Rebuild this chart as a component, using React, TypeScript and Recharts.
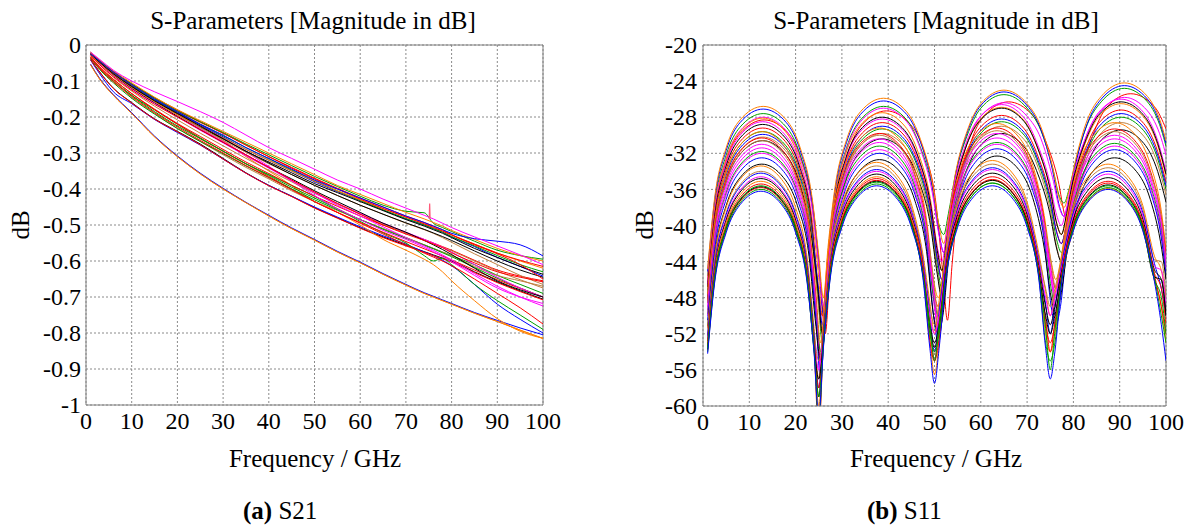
import React from 'react';
import { LineChart, Line, XAxis, YAxis, CartesianGrid, ReferenceLine } from 'recharts';

const FONT = '"Liberation Serif", "Times New Roman", serif';

const ORANGE = '#ff8000';
const BLUE = '#0000ff';
const GREEN = '#00a000';
const RED = '#ff0000';
const BLACK = '#000000';
const MAGENTA = '#ff00ff';
const BROWN = '#c08040';
const PINK = '#ff5a7a';

const X_TICKS = [0, 10, 20, 30, 40, 50, 60, 70, 80, 90, 100];
const S21_Y_TICKS = [0, -0.1, -0.2, -0.3, -0.4, -0.5, -0.6, -0.7, -0.8, -0.9, -1];
const S11_Y_TICKS = [-60, -56, -52, -48, -44, -40, -36, -32, -28, -24, -20];

// ---------------- S21 ----------------
const S21_FREQ = [1, 3, 6, 10, 15, 20, 25, 30, 35, 40, 45, 50, 55, 60, 65, 70, 74, 76, 78, 80, 85, 90, 95, 100];

const s21_orangeLow = [-0.055, -0.095, -0.14, -0.19, -0.255, -0.31, -0.358, -0.4, -0.438, -0.475, -0.51, -0.542, -0.575, -0.605, -0.637, -0.667, -0.69, -0.7, -0.71, -0.72, -0.745, -0.768, -0.792, -0.815];
const s21_blueLow = [-0.053, -0.093, -0.138, -0.188, -0.253, -0.308, -0.356, -0.398, -0.437, -0.473, -0.508, -0.54, -0.573, -0.603, -0.635, -0.665, -0.688, -0.698, -0.708, -0.718, -0.743, -0.765, -0.786, -0.805];
const s21_blackK = [-0.04, -0.075, -0.12, -0.16, -0.205, -0.24, -0.275, -0.315, -0.355, -0.39, -0.42, -0.452, -0.48, -0.508, -0.533, -0.556, -0.574, -0.583, -0.592, -0.6, -0.63, -0.658, -0.683, -0.706];
const s21_blueK = [-0.042, -0.08, -0.13, -0.163, -0.207, -0.243, -0.278, -0.317, -0.356, -0.39, -0.42, -0.45, -0.478, -0.505, -0.53, -0.553, -0.575, -0.585, -0.598, -0.613, -0.665, -0.72, -0.762, -0.8];
const s21_redK = [-0.041, -0.076, -0.121, -0.161, -0.206, -0.241, -0.277, -0.317, -0.356, -0.391, -0.421, -0.453, -0.481, -0.509, -0.535, -0.558, -0.576, -0.585, -0.594, -0.603, -0.632, -0.66, -0.685, -0.708];
const s21_orangeKink = [-0.025, -0.05, -0.08, -0.115, -0.155, -0.19, -0.225, -0.265, -0.31, -0.35, -0.39, -0.435, -0.465, -0.5, -0.54, -0.57, -0.595, -0.61, -0.63, -0.655, -0.71, -0.76, -0.795, -0.815];
const s21_greenKink = [-0.035, -0.065, -0.1, -0.14, -0.18, -0.22, -0.258, -0.295, -0.33, -0.36, -0.39, -0.42, -0.455, -0.49, -0.522, -0.55, -0.585, -0.6, -0.592, -0.61, -0.665, -0.71, -0.75, -0.79];
const s21_redLow = [-0.035, -0.06, -0.095, -0.135, -0.18, -0.22, -0.26, -0.295, -0.33, -0.365, -0.4, -0.435, -0.465, -0.495, -0.525, -0.555, -0.578, -0.589, -0.6, -0.613, -0.65, -0.69, -0.73, -0.775];
const s21_greenMid = [-0.035, -0.065, -0.1, -0.14, -0.185, -0.225, -0.26, -0.295, -0.33, -0.362, -0.395, -0.425, -0.455, -0.485, -0.51, -0.535, -0.555, -0.565, -0.575, -0.585, -0.61, -0.64, -0.665, -0.69];
const s21_brownMid = [-0.033, -0.063, -0.098, -0.145, -0.19, -0.232, -0.268, -0.305, -0.34, -0.372, -0.405, -0.435, -0.46, -0.485, -0.51, -0.535, -0.555, -0.565, -0.575, -0.585, -0.615, -0.64, -0.655, -0.67];
const s21_redMid = [-0.033, -0.062, -0.096, -0.135, -0.178, -0.218, -0.254, -0.29, -0.325, -0.357, -0.39, -0.42, -0.448, -0.475, -0.5, -0.522, -0.54, -0.55, -0.56, -0.57, -0.598, -0.625, -0.642, -0.655];
const s21_greenMid2 = [-0.037, -0.068, -0.105, -0.148, -0.192, -0.232, -0.268, -0.302, -0.336, -0.368, -0.4, -0.43, -0.458, -0.485, -0.512, -0.537, -0.556, -0.566, -0.577, -0.588, -0.618, -0.648, -0.675, -0.7];
const s21_redMid2 = [-0.036, -0.066, -0.102, -0.143, -0.188, -0.228, -0.265, -0.3, -0.335, -0.368, -0.402, -0.435, -0.465, -0.493, -0.52, -0.546, -0.566, -0.576, -0.586, -0.597, -0.625, -0.652, -0.676, -0.7];
const s21_magentaDrop = [-0.025, -0.047, -0.078, -0.113, -0.152, -0.187, -0.222, -0.258, -0.297, -0.337, -0.378, -0.418, -0.455, -0.485, -0.515, -0.54, -0.562, -0.574, -0.588, -0.602, -0.64, -0.675, -0.7, -0.718];
const s21_magentaTop = [-0.02, -0.04, -0.07, -0.1, -0.13, -0.157, -0.185, -0.215, -0.25, -0.285, -0.315, -0.345, -0.375, -0.4, -0.428, -0.453, -0.473, -0.483, -0.495, -0.507, -0.533, -0.558, -0.583, -0.61];
const s21_blueBump = [-0.025, -0.045, -0.075, -0.11, -0.15, -0.185, -0.22, -0.25, -0.285, -0.315, -0.345, -0.375, -0.4, -0.425, -0.45, -0.475, -0.493, -0.503, -0.513, -0.523, -0.538, -0.545, -0.555, -0.586];
const s21_blackU = [-0.025, -0.048, -0.08, -0.115, -0.155, -0.19, -0.225, -0.26, -0.295, -0.325, -0.355, -0.385, -0.41, -0.435, -0.46, -0.485, -0.503, -0.513, -0.523, -0.535, -0.565, -0.59, -0.615, -0.637];
const s21_orangeU = [-0.02, -0.042, -0.072, -0.105, -0.145, -0.18, -0.21, -0.24, -0.27, -0.3, -0.33, -0.36, -0.39, -0.415, -0.44, -0.465, -0.483, -0.493, -0.503, -0.515, -0.54, -0.565, -0.585, -0.6];
const s21_redU = [-0.022, -0.045, -0.076, -0.11, -0.148, -0.183, -0.215, -0.245, -0.278, -0.31, -0.34, -0.37, -0.398, -0.425, -0.45, -0.475, -0.493, -0.503, -0.513, -0.527, -0.555, -0.58, -0.61, -0.65];
const s21_greenU = [-0.02, -0.043, -0.074, -0.108, -0.147, -0.182, -0.213, -0.243, -0.275, -0.305, -0.335, -0.365, -0.393, -0.42, -0.445, -0.462, -0.466, -0.495, -0.507, -0.518, -0.545, -0.57, -0.585, -0.595];
const s21_brownU = [-0.028, -0.05, -0.082, -0.118, -0.158, -0.195, -0.23, -0.265, -0.298, -0.33, -0.36, -0.39, -0.418, -0.445, -0.47, -0.495, -0.513, -0.523, -0.535, -0.548, -0.58, -0.61, -0.64, -0.665];
const s21_magentaU = [-0.025, -0.048, -0.08, -0.117, -0.158, -0.195, -0.232, -0.268, -0.305, -0.34, -0.375, -0.41, -0.445, -0.475, -0.505, -0.535, -0.558, -0.57, -0.583, -0.597, -0.635, -0.67, -0.7, -0.725];
const s21_blackU2 = [-0.027, -0.05, -0.083, -0.12, -0.16, -0.198, -0.235, -0.27, -0.305, -0.34, -0.372, -0.405, -0.435, -0.465, -0.495, -0.52, -0.543, -0.555, -0.568, -0.582, -0.62, -0.655, -0.68, -0.7];
const s21_blueU2 = [-0.026, -0.048, -0.08, -0.115, -0.153, -0.188, -0.222, -0.255, -0.29, -0.32, -0.35, -0.38, -0.407, -0.432, -0.458, -0.483, -0.5, -0.51, -0.52, -0.533, -0.56, -0.59, -0.615, -0.642];
const s21_redU2 = [-0.03, -0.055, -0.088, -0.125, -0.165, -0.2, -0.235, -0.27, -0.305, -0.34, -0.375, -0.408, -0.44, -0.47, -0.5, -0.525, -0.543, -0.553, -0.563, -0.577, -0.605, -0.63, -0.645, -0.658];
const s21_greenU2 = [-0.024, -0.046, -0.077, -0.112, -0.151, -0.186, -0.22, -0.252, -0.285, -0.316, -0.347, -0.377, -0.405, -0.432, -0.458, -0.482, -0.5, -0.51, -0.52, -0.532, -0.558, -0.585, -0.61, -0.63];
const s21_orangeU2 = [-0.027, -0.05, -0.082, -0.118, -0.157, -0.193, -0.226, -0.258, -0.29, -0.32, -0.35, -0.378, -0.405, -0.43, -0.455, -0.478, -0.496, -0.506, -0.516, -0.527, -0.553, -0.578, -0.6, -0.62];
const s21_redU3 = [-0.023, -0.044, -0.074, -0.108, -0.146, -0.18, -0.213, -0.245, -0.278, -0.31, -0.342, -0.372, -0.4, -0.428, -0.454, -0.478, -0.497, -0.507, -0.517, -0.528, -0.553, -0.578, -0.598, -0.615];
const s21_blackU3 = [-0.026, -0.049, -0.081, -0.117, -0.156, -0.192, -0.227, -0.261, -0.295, -0.328, -0.36, -0.39, -0.418, -0.445, -0.47, -0.494, -0.512, -0.522, -0.532, -0.543, -0.572, -0.6, -0.625, -0.645];
const s21_magentaU2 = [-0.028, -0.052, -0.085, -0.122, -0.162, -0.2, -0.237, -0.272, -0.308, -0.342, -0.377, -0.41, -0.44, -0.468, -0.495, -0.52, -0.54, -0.55, -0.562, -0.575, -0.61, -0.645, -0.675, -0.7];
const s21_brownU2 = [-0.03, -0.055, -0.09, -0.128, -0.17, -0.208, -0.245, -0.28, -0.315, -0.348, -0.38, -0.412, -0.442, -0.47, -0.497, -0.522, -0.542, -0.552, -0.562, -0.572, -0.6, -0.628, -0.652, -0.675];

const S21_SPIKE_FREQ = [75.1, 75.2, 75.3];
const S21_SPIKE_VAL = [-0.483, -0.44, -0.483];

const S21_SERIES: [number[], string][] = [
  [s21_orangeLow, ORANGE],
  [s21_blueLow, BLUE],
  [s21_orangeLow, ORANGE],
  [s21_blackK, BLACK],
  [s21_blueK, BLUE],
  [s21_redK, RED],
  [s21_orangeKink, ORANGE],
  [s21_greenKink, GREEN],
  [s21_redLow, RED],
  [s21_greenMid, GREEN],
  [s21_brownMid, BROWN],
  [s21_redMid, RED],
  [s21_greenMid2, GREEN],
  [s21_redMid2, RED],
  [s21_magentaDrop, MAGENTA],
  [s21_brownU2, BROWN],
  [s21_magentaU2, MAGENTA],
  [s21_blackU2, BLACK],
  [s21_magentaU, MAGENTA],
  [s21_brownU, BROWN],
  [s21_redU2, RED],
  [s21_blackU3, BLACK],
  [s21_blueU2, BLUE],
  [s21_greenU2, GREEN],
  [s21_orangeU2, ORANGE],
  [s21_blackU, BLACK],
  [s21_redU3, RED],
  [s21_redU, RED],
  [s21_greenU, GREEN],
  [s21_orangeU, ORANGE],
  [s21_blueBump, BLUE],
  [s21_magentaTop, MAGENTA],
];

// ---------------- S11 ----------------
const S11_FREQ_A = [1, 2.5, 5, 8, 12.5, 17, 20, 22.5, 24, 25, 26, 27.5, 30, 33, 37.5, 42, 45, 47.5, 49, 50, 51, 52.5, 55, 58, 62.5, 67, 70, 72.5, 74, 75, 76, 77.5, 80, 83, 87.5, 92, 95, 97.5, 99, 100];
const S11_FREQ_B = [1, 2.5, 5, 8, 12.7, 17.4, 20.4, 22.9, 24.4, 25.4, 26.4, 27.9, 30.4, 33.4, 38.1, 42.8, 45.8, 48.3, 49.8, 50.8, 51.8, 53.3, 55.8, 58.8, 63.5, 68.2, 71.2, 73.7, 75.2, 76.2, 77.2, 78.7, 81.2, 84.2, 88.9, 93.6, 96.6, 99.1, 100];
const S11_FREQ_C = [1, 2.5, 5, 8, 12.9, 17.8, 20.8, 23.3, 24.8, 25.8, 26.8, 28.3, 30.8, 33.8, 38.7, 43.6, 46.6, 49.1, 50.6, 51.6, 52.6, 54.1, 56.6, 59.6, 64.5, 69.4, 72.4, 74.9, 76.4, 77.4, 78.4, 79.9, 82.4, 85.4, 90.3, 95.2, 98.2, 100];
const S11_FREQ_D = [1, 2.5, 5, 8, 13, 18, 21, 23.5, 25, 26, 27, 28.5, 31, 34, 39, 44, 47, 49.5, 51, 52, 53, 54.5, 57, 60, 65, 70, 73, 75.5, 77, 78, 79, 80.5, 83, 86, 91, 96, 99, 100];
const S11_FREQ_E = [1, 2.5, 5, 8, 13.2, 18.4, 21.4, 23.9, 25.4, 26.4, 27.4, 28.9, 31.4, 34.4, 39.6, 44.8, 47.8, 50.3, 51.8, 52.8, 53.8, 55.3, 57.8, 60.8, 66, 71.2, 74.2, 76.7, 78.2, 79.2, 80.2, 81.7, 84.2, 87.2, 92.4, 97.6, 100];

const s11_a1 = [-54.2, -46.4, -40.8, -37.7, -36.2, -37.7, -40.8, -46.4, -54.2, -61, -53.6, -45.8, -40.2, -37.1, -35.6, -37.1, -40.2, -45.8, -53.6, -57.5, -53.6, -45.8, -40.2, -37.1, -35.6, -37.1, -40.2, -45.8, -53.6, -57, -54, -46.2, -40.6, -37.5, -36.0, -37.5, -40.6, -46.2, -51, -55];
const s11_a2 = [-54.0, -46.2, -40.6, -37.5, -36.0, -37.5, -40.6, -46.2, -54.0, -59, -53.4, -45.6, -40.0, -36.9, -35.4, -36.9, -40.0, -45.6, -52, -54, -52, -45.5, -39.9, -36.8, -35.3, -36.8, -39.9, -45.5, -53, -55, -53, -46.0, -40.4, -37.3, -35.8, -37.3, -40.4, -46.0, -48, -52];
const s11_a3 = [-53.7, -45.9, -40.3, -37.2, -35.7, -37.2, -40.3, -45.9, -53.7, -57, -53.1, -45.3, -39.7, -36.6, -35.1, -36.6, -39.7, -45.3, -51, -53, -51, -45.2, -39.6, -36.5, -35.0, -36.5, -39.6, -45.2, -50, -52, -50, -45.7, -40.1, -37.0, -35.5, -37.0, -40.1, -45.7, -46, -50];
const s11_a4 = [-53.4, -45.6, -40.0, -36.9, -35.4, -36.9, -40.0, -45.6, -53.4, -58, -52.8, -45.0, -39.4, -36.3, -34.8, -36.3, -39.4, -45.0, -52.8, -55, -52.6, -44.8, -39.2, -36.1, -34.6, -36.1, -39.2, -44.8, -51, -53, -51, -45.3, -39.7, -36.6, -35.1, -36.6, -39.7, -45.3, -47, -51];
const s11_a5 = [-53.1, -45.3, -39.7, -36.6, -35.1, -36.6, -39.7, -45.3, -53.1, -60, -52.6, -44.8, -39.2, -36.1, -34.6, -36.1, -39.2, -44.8, -52.6, -56.5, -53.0, -45.2, -39.6, -36.5, -35.0, -36.5, -39.6, -45.2, -52, -54, -52, -46.1, -40.5, -37.4, -35.9, -37.4, -40.5, -46.1, -49, -53];
const s11_a6 = [-52.6, -44.8, -39.2, -36.1, -34.6, -36.1, -39.2, -44.8, -52.6, -56, -52.0, -44.2, -38.6, -35.5, -34.0, -35.5, -38.6, -44.2, -50, -52, -50, -44.0, -38.4, -35.3, -33.8, -35.3, -38.4, -44.0, -48, -50, -48, -44.5, -38.9, -35.8, -34.3, -35.8, -38.9, -44.5, -45, -49];
const s11_a7 = [-52.0, -44.2, -38.6, -35.5, -34.0, -35.5, -38.6, -44.2, -52.0, -55, -51.4, -43.6, -38.0, -34.9, -33.4, -34.9, -38.0, -43.6, -49, -51, -49, -43.4, -37.8, -34.7, -33.2, -34.7, -37.8, -43.4, -47, -49, -47, -43.8, -38.2, -35.1, -33.6, -35.1, -38.2, -43.8, -44, -48];
const s11_a8 = [-52.8, -45.0, -39.4, -36.3, -34.8, -36.3, -39.4, -45.0, -52.8, -59, -52.3, -44.5, -38.9, -35.8, -34.3, -35.8, -38.9, -44.5, -51.5, -53.5, -51.5, -44.4, -38.8, -35.7, -34.2, -35.7, -38.8, -44.4, -49, -51, -49, -44.9, -39.3, -36.2, -34.7, -36.2, -39.3, -44.9, -46, -50];
const s11_a9 = [-53.6, -45.8, -40.2, -37.1, -35.6, -37.1, -40.2, -45.8, -53.6, -62, -53.2, -45.4, -39.8, -36.7, -35.2, -36.7, -39.8, -45.4, -51.0, -55, -51.1, -45.5, -39.9, -36.8, -35.3, -36.8, -39.9, -45.5, -51.4, -56, -51.7, -45.8, -40.2, -37.1, -35.6, -37.1, -40.2, -45.8, -50, -53];
const s11_a10 = [-51.4, -43.6, -38.0, -34.9, -33.4, -34.9, -38.0, -43.6, -51.4, -57, -51.0, -43.2, -37.6, -34.5, -33.0, -34.5, -37.6, -43.2, -48.5, -52, -48.3, -43.0, -37.4, -34.3, -32.8, -34.3, -37.4, -43.0, -47.3, -50, -47.7, -43.4, -37.8, -34.7, -33.2, -34.7, -37.8, -43.4, -45, -48];
const s11_a11 = [-52.2, -44.4, -38.8, -35.7, -34.2, -35.7, -38.8, -44.4, -52.2, -58, -51.8, -44.0, -38.4, -35.3, -33.8, -35.3, -38.4, -44.0, -49.8, -54, -49.6, -43.8, -38.2, -35.1, -33.6, -35.1, -38.2, -43.8, -48.7, -52, -49.1, -44.2, -38.6, -35.5, -34.0, -35.5, -38.6, -44.2, -47, -50];
const s11_a12 = [-53.8, -46.0, -40.4, -37.3, -35.8, -37.3, -40.4, -46.0, -53.8, -63, -53.0, -45.2, -39.6, -36.5, -35.0, -36.5, -39.6, -45.2, -50.9, -55, -50.8, -45.1, -39.5, -36.4, -34.9, -36.4, -39.5, -45.1, -50.4, -54, -50.8, -45.5, -39.9, -36.8, -35.3, -36.8, -39.9, -45.5, -49, -52];

const s11_b1 = [-51.2, -43.4, -37.8, -34.7, -33.2, -34.7, -37.8, -43.4, -51.2, -55, -50.7, -42.9, -37.3, -34.2, -32.7, -34.2, -37.3, -42.9, -50, -52, -50, -42.5, -36.9, -33.8, -32.3, -33.8, -36.9, -42.5, -48, -50, -48, -42.7, -37.1, -34.0, -32.5, -34.0, -37.1, -42.7, -46];
const s11_b2 = [-50.5, -42.7, -37.1, -34.0, -32.5, -34.0, -37.1, -42.7, -50.5, -57, -50.0, -42.2, -36.6, -33.5, -32.0, -33.5, -36.6, -42.2, -50, -53, -49.5, -41.7, -36.1, -33.0, -31.5, -33.0, -36.1, -41.7, -49, -51, -49, -41.8, -36.2, -33.1, -31.6, -33.1, -36.2, -41.8, -45.5];
const s11_b3 = [-49.8, -42.0, -36.4, -33.3, -31.8, -33.3, -36.4, -42.0, -49.8, -54, -49.2, -41.4, -35.8, -32.7, -31.2, -32.7, -35.8, -41.4, -48, -50, -48, -41.0, -35.4, -32.3, -30.8, -32.3, -35.4, -41.0, -47, -49, -47, -41.1, -35.5, -32.4, -30.9, -32.4, -35.5, -41.1, -45];
const s11_b4 = [-49.0, -41.2, -35.6, -32.5, -31.0, -32.5, -35.6, -41.2, -49.0, -56, -48.4, -40.6, -35.0, -31.9, -30.4, -31.9, -35.0, -40.6, -48.4, -51, -47.8, -40.0, -34.4, -31.3, -29.8, -31.3, -34.4, -40.0, -46, -48, -46, -40.2, -34.6, -31.5, -30.0, -31.5, -34.6, -40.2, -44];
const s11_b5 = [-48.3, -40.5, -34.9, -31.8, -30.3, -31.8, -34.9, -40.5, -48.3, -55, -47.8, -40.0, -34.4, -31.3, -29.8, -31.3, -34.4, -40.0, -47, -49, -47, -39.4, -33.8, -30.7, -29.2, -30.7, -33.8, -39.4, -45, -47, -45, -39.5, -33.9, -30.8, -29.3, -30.8, -33.9, -39.5, -43.3];
const s11_b6 = [-47.6, -39.8, -34.2, -31.1, -29.6, -31.1, -34.2, -39.8, -47.6, -53, -47.2, -39.4, -33.8, -30.7, -29.2, -30.7, -33.8, -39.4, -46, -48, -46, -38.9, -33.3, -30.2, -28.7, -30.2, -33.3, -38.9, -44, -46, -44, -38.8, -33.2, -30.1, -28.6, -30.1, -33.2, -38.8, -42.6];
const s11_b7 = [-50.0, -42.2, -36.6, -33.5, -32.0, -33.5, -36.6, -42.2, -50.0, -55, -49.6, -41.8, -36.2, -33.1, -31.6, -33.1, -36.2, -41.8, -47.4, -51, -46.8, -41.2, -35.6, -32.5, -31.0, -32.5, -35.6, -41.2, -46.0, -49, -46.2, -41.4, -35.8, -32.7, -31.2, -32.7, -35.8, -41.4, -45];
const s11_b8 = [-48.6, -40.8, -35.2, -32.1, -30.6, -32.1, -35.2, -40.8, -48.6, -54, -48.0, -40.2, -34.6, -31.5, -30.0, -31.5, -34.6, -40.2, -46.0, -50, -45.5, -39.7, -34.1, -31.0, -29.5, -31.0, -34.1, -39.7, -44.2, -47, -44.3, -39.8, -34.2, -31.1, -29.6, -31.1, -34.2, -39.8, -44];
const s11_b9 = [-49.4, -41.6, -36.0, -32.9, -31.4, -32.9, -36.0, -41.6, -49.4, -56, -48.8, -41.0, -35.4, -32.3, -30.8, -32.3, -35.4, -41.0, -47.2, -52, -46.7, -40.5, -34.9, -31.8, -30.3, -31.8, -34.9, -40.5, -45.1, -48, -45.2, -40.6, -35.0, -31.9, -30.4, -31.9, -35.0, -40.6, -44.5];

const s11_c1 = [-46.8, -39.0, -33.4, -30.3, -28.8, -30.3, -33.4, -39.0, -46.8, -52, -46.0, -38.2, -32.6, -29.5, -28.0, -29.5, -32.6, -37.5, -42.8, -45, -41.8, -36.5, -31.6, -28.5, -27.0, -28.5, -31.6, -35.8, -39.8, -41, -39.1, -35.1, -30.9, -27.8, -26.3, -27.8, -30.9, -34.3];
const s11_c2 = [-46.5, -38.7, -33.1, -30.0, -28.5, -30.0, -33.1, -38.7, -46.5, -51, -46.2, -38.4, -32.8, -29.7, -28.2, -29.7, -32.8, -37.5, -42.5, -44, -40.9, -35.9, -31.2, -28.1, -26.6, -28.1, -31.2, -35.2, -38.9, -40, -38.3, -34.6, -30.6, -27.5, -26.0, -27.5, -30.6, -34.0];
const s11_c3 = [-47.6, -39.8, -34.2, -31.1, -29.6, -31.1, -34.2, -39.8, -47.6, -53, -47.3, -39.5, -33.9, -30.8, -29.3, -30.8, -33.9, -38.9, -44.4, -47, -43.6, -38.1, -33.1, -30.0, -28.5, -30.0, -33.1, -37.4, -41.6, -43, -41.1, -36.9, -32.6, -29.5, -28.0, -29.5, -32.6, -36.0];
const s11_c4 = [-48.2, -40.4, -34.8, -31.7, -30.2, -31.7, -34.8, -40.4, -48.2, -52, -47.8, -40.0, -34.4, -31.3, -29.8, -31.3, -34.4, -39.4, -45.1, -48, -44.3, -38.6, -33.6, -30.5, -29.0, -30.5, -33.6, -38.0, -42.4, -44, -42.0, -37.6, -33.2, -30.1, -28.6, -30.1, -33.2, -36.6];
const s11_c5 = [-47.2, -39.4, -33.8, -30.7, -29.2, -30.7, -33.8, -39.4, -47.2, -50, -46.6, -38.8, -33.2, -30.1, -28.6, -30.1, -33.2, -38.1, -43.5, -46, -42.7, -37.3, -32.4, -29.3, -27.8, -29.3, -32.4, -36.6, -40.7, -42, -40.1, -36.0, -31.8, -28.7, -27.2, -28.7, -31.8, -35.2];
const s11_c6 = [-47.9, -40.1, -34.5, -31.4, -29.9, -31.4, -34.5, -40.1, -46.4, -51, -45.5, -39.2, -33.6, -30.5, -29.0, -30.5, -33.6, -38.4, -43.7, -46, -42.9, -37.6, -32.8, -29.7, -28.2, -29.7, -32.8, -36.9, -40.8, -42, -40.2, -36.3, -32.2, -29.1, -27.6, -29.1, -32.2, -35.6];
const s11_c7 = [-46.1, -38.3, -32.7, -29.6, -28.1, -29.6, -32.7, -38.3, -44.7, -50, -44.1, -37.4, -32.1, -29.0, -27.5, -29.0, -32.1, -37.0, -42.4, -45, -41.8, -36.4, -31.5, -28.4, -26.9, -28.4, -31.5, -35.7, -39.7, -41, -39.3, -35.3, -31.1, -28.0, -26.5, -28.0, -31.1, -34.5];
const s11_c8 = [-48.6, -40.8, -35.2, -32.1, -30.6, -32.1, -35.2, -40.8, -47.0, -52, -46.8, -40.3, -35.0, -31.9, -30.4, -31.9, -35.0, -39.9, -45.4, -48, -44.8, -39.3, -34.4, -31.3, -29.8, -31.3, -34.4, -38.6, -42.6, -44, -42.2, -38.2, -34.0, -30.9, -29.4, -30.9, -34.0, -37.4];

const s11_d1 = [-44.8, -37.0, -31.4, -28.3, -26.8, -28.3, -31.4, -36.7, -43.3, -48, -42.4, -35.8, -30.5, -27.4, -25.9, -27.4, -30.5, -35.2, -40.1, -42, -39.2, -34.3, -29.6, -26.5, -25.0, -26.5, -29.1, -33.5, -37.1, -38, -36.3, -32.7, -28.3, -25.7, -24.2, -25.7, -28.8, -30.6];
const s11_d2 = [-45.1, -37.3, -31.7, -28.6, -27.1, -28.6, -31.7, -37.1, -44.0, -50, -43.1, -36.2, -30.8, -27.7, -26.2, -27.7, -30.8, -35.6, -40.9, -43, -39.9, -34.6, -29.8, -26.7, -25.2, -26.7, -29.4, -33.9, -37.9, -39, -37.2, -33.2, -28.7, -26.0, -24.5, -26.0, -29.1, -30.9];
const s11_d3 = [-45.6, -37.8, -32.2, -29.1, -27.6, -29.1, -32.2, -37.5, -44.1, -49, -43.3, -36.7, -31.4, -28.3, -26.8, -28.3, -31.4, -35.7, -40.0, -41, -38.7, -34.4, -30.1, -27.0, -25.5, -27.0, -29.5, -33.6, -36.8, -37.5, -36.1, -32.9, -28.8, -26.3, -24.8, -26.3, -29.4, -31.2];
const s11_d4 = [-46.0, -38.2, -32.6, -29.5, -28.0, -29.5, -32.6, -37.9, -44.4, -49, -43.4, -36.9, -31.6, -28.5, -27.0, -28.5, -31.6, -36.3, -41.1, -43, -40.5, -35.7, -31.0, -27.9, -26.4, -27.9, -30.4, -34.7, -38.1, -39, -37.5, -34.1, -29.8, -27.3, -25.8, -27.3, -30.4, -32.2];

const s11_e1 = [-46.3, -38.5, -32.9, -29.8, -28.3, -29.8, -32.9, -38.5, -46.3, -52, -45.3, -37.5, -31.9, -28.8, -27.3, -28.8, -31.9, -37.5, -45.3, -50.5, -44.3, -36.5, -30.9, -27.8, -26.3, -27.8, -30.9, -35.0, -39.0, -40, -38.1, -34.1, -30.0, -26.9, -25.4, -26.9, -29.3];

const S11_SERIES: [number[], number[], string][] = [
  [S11_FREQ_E, s11_e1, RED],
  [S11_FREQ_D, s11_d3, GREEN],
  [S11_FREQ_D, s11_d2, BLUE],
  [S11_FREQ_D, s11_d4, MAGENTA],
  [S11_FREQ_D, s11_d1, ORANGE],
  [S11_FREQ_C, s11_c7, ORANGE],
  [S11_FREQ_C, s11_c2, MAGENTA],
  [S11_FREQ_C, s11_c1, BLACK],
  [S11_FREQ_C, s11_c5, RED],
  [S11_FREQ_C, s11_c3, GREEN],
  [S11_FREQ_C, s11_c6, BLUE],
  [S11_FREQ_C, s11_c4, BROWN],
  [S11_FREQ_C, s11_c8, BLACK],
  [S11_FREQ_B, s11_b6, ORANGE],
  [S11_FREQ_B, s11_b5, RED],
  [S11_FREQ_B, s11_b8, BROWN],
  [S11_FREQ_B, s11_b4, MAGENTA],
  [S11_FREQ_B, s11_b9, MAGENTA],
  [S11_FREQ_B, s11_b3, GREEN],
  [S11_FREQ_B, s11_b7, MAGENTA],
  [S11_FREQ_B, s11_b2, BLUE],
  [S11_FREQ_B, s11_b1, BLACK],
  [S11_FREQ_A, s11_a10, ORANGE],
  [S11_FREQ_A, s11_a7, BROWN],
  [S11_FREQ_A, s11_a11, BLUE],
  [S11_FREQ_A, s11_a6, MAGENTA],
  [S11_FREQ_A, s11_a8, BLACK],
  [S11_FREQ_A, s11_a5, ORANGE],
  [S11_FREQ_A, s11_a4, RED],
  [S11_FREQ_A, s11_a12, RED],
  [S11_FREQ_A, s11_a3, BLACK],
  [S11_FREQ_A, s11_a9, GREEN],
  [S11_FREQ_A, s11_a2, GREEN],
  [S11_FREQ_A, s11_a1, BLUE],
];

const toPoints = (freq: number[], vals: number[]) => freq.map((x, i) => ({ x, y: vals[i] }));

const FRAME = '#808080';

function fmtS21(v: number) {
  if (v === 0) return '0';
  if (v === -1) return '-1';
  return v.toFixed(1);
}

function XTick(props: any) {
  const { x, y, payload } = props;
  return (
    <text x={x} y={y} dy="0.72em" textAnchor="middle" fontFamily={FONT} fontSize={24} fill="#000">
      {String(payload.value)}
    </text>
  );
}

function makeYTick(fmt: (v: number) => string) {
  return function YTick(props: any) {
    const { x, y, payload } = props;
    return (
      <text x={x} y={y} dy="0.34em" textAnchor="end" fontFamily={FONT} fontSize={24} fill="#000">
        {fmt(payload.value)}
      </text>
    );
  };
}

const S21YTick = makeYTick(fmtS21);
const S11YTick = makeYTick((v: number) => String(v));

export default function App() {
  return (
    <div style={{ position: 'absolute', left: 0, top: 0, width: 1195, height: 527, background: '#fff', overflow: 'hidden' }}>
      <div style={{ position: 'absolute', left: 0, top: 0 }}>
        <LineChart width={600} height={440} margin={{ top: 45, right: 57, bottom: 0, left: 0 }}>
          <CartesianGrid stroke="#8a8a8a" strokeDasharray="2 2" />
          <XAxis type="number" dataKey="x" domain={[0, 100]} ticks={X_TICKS} allowDataOverflow height={35}
            tickLine={false} tickSize={4} tickMargin={3} axisLine={{ stroke: FRAME }} tick={<XTick />} interval={0} />
          <YAxis type="number" domain={[-1, 0]} ticks={S21_Y_TICKS} allowDataOverflow width={86}
            tickLine={false} tickSize={3} tickMargin={2} axisLine={{ stroke: FRAME }} tick={<S21YTick />} interval={0} />
          <ReferenceLine y={0} stroke={FRAME} />
          <ReferenceLine x={100} stroke={FRAME} />
          {S21_SERIES.map(([vals, color], i) => (
            <Line key={'s21-' + i} data={toPoints(S21_FREQ, vals)} dataKey="y" type="monotone" stroke={color}
              strokeWidth={1} dot={false} activeDot={false} isAnimationActive={false} />
          ))}
          <Line key="s21-spike" data={toPoints(S21_SPIKE_FREQ, S21_SPIKE_VAL)} dataKey="y" type="linear" stroke={PINK}
            strokeWidth={1.2} dot={false} activeDot={false} isAnimationActive={false} />
        </LineChart>
      </div>
      <div style={{ position: 'absolute', left: 600, top: 0 }}>
        <LineChart width={595} height={440} margin={{ top: 45, right: 29, bottom: 0, left: 0 }}>
          <CartesianGrid stroke="#8a8a8a" strokeDasharray="2 2" />
          <XAxis type="number" dataKey="x" domain={[0, 100]} ticks={X_TICKS} allowDataOverflow height={34}
            tickLine={false} tickSize={4} tickMargin={3} axisLine={{ stroke: FRAME }} tick={<XTick />} interval={0} />
          <YAxis type="number" domain={[-60, -20]} ticks={S11_Y_TICKS} allowDataOverflow width={103}
            tickLine={false} tickSize={3} tickMargin={3} axisLine={{ stroke: FRAME }} tick={<S11YTick />} interval={0} />
          <ReferenceLine y={-20} stroke={FRAME} />
          <ReferenceLine x={100} stroke={FRAME} />
          {S11_SERIES.map(([freq, vals, color], i) => (
            <Line key={'s11-' + i} data={toPoints(freq, vals)} dataKey="y" type="monotone" stroke={color}
              strokeWidth={1} dot={false} activeDot={false} isAnimationActive={false} />
          ))}
        </LineChart>
      </div>
      <svg width={1195} height={527} style={{ position: 'absolute', left: 0, top: 0, pointerEvents: 'none' }}
        fontFamily={FONT} fill="#000">
        <text x={313} y={29} fontSize={25} textAnchor="middle">S-Parameters [Magnitude in dB]</text>
        <text x={936} y={29} fontSize={25} textAnchor="middle">S-Parameters [Magnitude in dB]</text>
        <text x={315} y={467} fontSize={25} textAnchor="middle">Frequency / GHz</text>
        <text x={936} y={467} fontSize={25} textAnchor="middle">Frequency / GHz</text>
        <text x={29} y={225} fontSize={25} textAnchor="middle" transform="rotate(-90 29 225)">dB</text>
        <text x={653} y={225} fontSize={25} textAnchor="middle" transform="rotate(-90 653 225)">dB</text>
        <text x={243} y={519} fontSize={25}><tspan fontWeight="bold">(a)</tspan> S21</text>
        <text x={867} y={519} fontSize={25}><tspan fontWeight="bold">(b)</tspan> S11</text>
      </svg>
    </div>
  );
}
